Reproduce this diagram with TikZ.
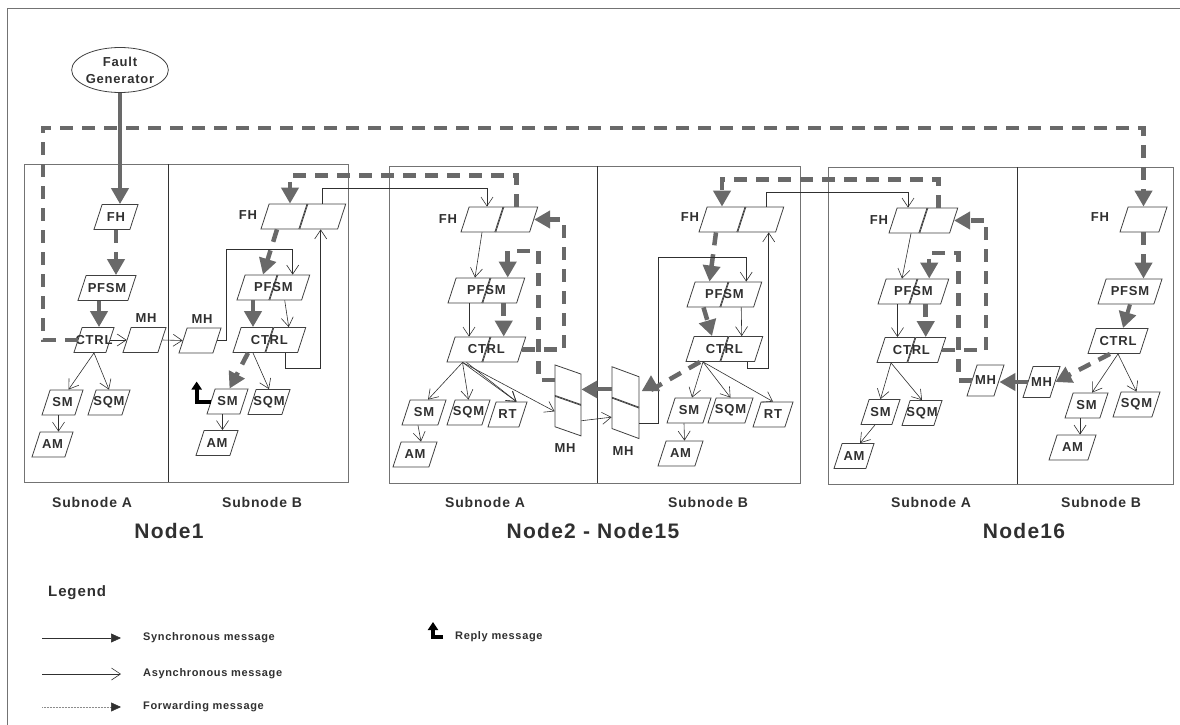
\documentclass[tikz,border=0pt]{standalone}
\usepackage{fontspec}
\setmainfont{Liberation Sans}[LetterSpace=6]
\usetikzlibrary{arrows.meta, shapes.geometric, positioning}
\definecolor{fwdgray}{HTML}{696969}
\definecolor{inkgray}{HTML}{303030}

\begin{document}
\begin{tikzpicture}[
    x=1pt, y=-1pt,
    parabase/.style={
        trapezium, trapezium left angle=72, trapezium right angle=108,
        draw=black!75, line width=0.8pt, fill=white
    },
    para/.style={parabase, inner ysep=12.5pt, inner xsep={(#1-16.24)*0.5pt}},
    mhpara/.style={parabase, inner ysep=15.5pt, inner xsep={(#1-20.14)*0.5pt}},
    mhcell/.style={
        rectangle, draw=black!75, line width=0.8pt, fill=white, inner sep=0pt,
        minimum width=#1, minimum height=30.5pt, transform shape
    },
    lbl/.style={font=\bfseries\fontsize{13}{17}\selectfont, text=inkgray, inner sep=0pt},
    subtitle/.style={font=\bfseries\fontsize{14}{16}\selectfont, text=inkgray, inner sep=0pt},
    title/.style={font=\bfseries\fontsize{21}{24}\selectfont, text=inkgray, inner sep=0pt},
    legtext/.style={font=\bfseries\fontsize{11}{13}\selectfont, text=inkgray, inner sep=0pt, anchor=west},
    nodebox/.style={draw=black!55, line width=1pt},
    divider/.style={draw=black!80, line width=0.8pt},
    async/.style={-{Straight Barb[length=9pt,width=12pt]}, line width=0.6pt, draw=inkgray},
    thk/.style={-{Triangle[length=16pt,width=17pt]}, line width=4pt, draw=fwdgray},
    fwd/.style={thk, line width=4.5pt, dash pattern=on 13pt off 9pt},
    reply/.style={-{Triangle[length=8pt,width=10pt]}, line width=4pt, draw=black},
]

\useasboundingbox (0,0) rectangle (1180,725);
\draw[black!55, line width=1pt] (7,725) -- (7,9) -- (1180,9);

\draw[nodebox] (24,164) rectangle (348,482);
\draw[divider] (168,164) -- (168,482);
\draw[nodebox] (389,166) rectangle (800,483);
\draw[divider] (597,166) -- (597,483);
\draw[nodebox] (828,167) rectangle (1173,484);
\draw[divider] (1017,167) -- (1017,484);

\node[lbl, draw=black!75, line width=0.8pt, ellipse, minimum width=86pt, minimum height=45pt, align=center] (fg) at (120,70) {Fault\\Generator};

% Node1, subnode A
\node[para=44, label={[lbl]center:FH}] (n1aFH) at (116,217) {};
\node[para=58, label={[lbl]center:PFSM}] (n1aPFSM) at (107,288) {};
\node[para=40, label={[lbl]center:CTRL}] (n1aCTRL) at (94,340) {};
\node[para=43] (n1aMH) at (144.5,340) {};
\node[lbl] (n1aMHtx) at (146,318) {MH};
\node[para=41, label={[lbl]center:SM}] (n1aSM) at (62.5,402.5) {};
\node[para=42, label={[lbl]center:SQM}] (n1aSQM) at (109,402.5) {};
\node[para=41, label={[lbl]center:AM}] (n1aAM) at (52.5,444.5) {};

% Node1, subnode B
\node[para=46] (n1bFHl) at (284,216.5) {};
\node[para=46, anchor=bottom left corner] (n1bFHr) at (n1bFHl.bottom right corner) {};
\node[lbl] (n1bFHtx) at (248,215) {FH};
\node[para=40] (n1bPFSMl) at (257,287.5) {};
\node[para=40, anchor=bottom left corner] (n1bPFSMr) at (n1bPFSMl.bottom right corner) {};
\node[lbl] (n1bPFSMtx) at (n1bPFSMl.east) {PFSM};
\node[para=40] (n1bCTRLl) at (253,340) {};
\node[para=40, anchor=bottom left corner] (n1bCTRLr) at (n1bCTRLl.bottom right corner) {};
\node[lbl] (n1bCTRLtx) at (n1bCTRLl.east) {CTRL};
\node[para=42] (n1bMH) at (200,340.5) {};
\node[lbl] (n1bMHtx) at (202,319) {MH};
\node[para=41, label={[lbl]center:SM}] (n1bSM) at (227.5,401.5) {};
\node[para=42, label={[lbl]center:SQM}] (n1bSQM) at (269,402) {};
\node[para=42, label={[lbl]center:AM}] (n1bAM) at (217,443) {};

% Node2 - Node15, subnode A
\node[para=42] (n2aFHl) at (482,219.5) {};
\node[para=42, anchor=bottom left corner] (n2aFHr) at (n2aFHl.bottom right corner) {};
\node[lbl] (n2aFHtx) at (448,219) {FH};
\node[para=42] (n2aPFSMl) at (469,290.5) {};
\node[para=42, anchor=bottom left corner] (n2aPFSMr) at (n2aPFSMl.bottom right corner) {};
\node[lbl] (n2aPFSMtx) at (n2aPFSMl.east) {PFSM};
\node[para=43] (n2aCTRLl) at (468.5,349.5) {};
\node[para=43, anchor=bottom left corner] (n2aCTRLr) at (n2aCTRLl.bottom right corner) {};
\node[lbl] (n2aCTRLtx) at (n2aCTRLl.east) {CTRL};
\node[para=44, label={[lbl]center:SM}] (n2aSM) at (424,412.5) {};
\node[para=43, label={[lbl]center:SQM}] (n2aSQM) at (468.5,412.5) {};
\node[para=39, label={[lbl]center:RT}] (n2aRT) at (507.5,414.5) {};
\node[para=44, label={[lbl]center:AM}] (n2aAM) at (415,454.5) {};
\node[mhcell=26pt, yslant=-0.35] (n2aMHt) at (568,384.75) {};
\node[mhcell=26pt, yslant=-0.35, anchor=north] (n2aMHb) at (n2aMHt.south) {};
\node[lbl] (n2aMHtx) at (565,448) {MH};

% Node2 - Node15, subnode B
\node[para=46] (n2bFHl) at (722,219.5) {};
\node[para=46, anchor=bottom left corner] (n2bFHr) at (n2bFHl.bottom right corner) {};
\node[lbl] (n2bFHtx) at (690,217) {FH};
\node[para=41] (n2bPFSMl) at (707.5,294.5) {};
\node[para=41, anchor=bottom left corner] (n2bPFSMr) at (n2bPFSMl.bottom right corner) {};
\node[lbl] (n2bPFSMtx) at (n2bPFSMl.east) {PFSM};
\node[para=42] (n2bCTRLl) at (707,349) {};
\node[para=42, anchor=bottom left corner] (n2bCTRLr) at (n2bCTRLl.bottom right corner) {};
\node[lbl] (n2bCTRLtx) at (n2bCTRLl.east) {CTRL};
\node[para=44, label={[lbl]center:SM}] (n2bSM) at (689,410.5) {};
\node[para=45, label={[lbl]center:SQM}] (n2bSQM) at (730.5,410.5) {};
\node[para=40, label={[lbl]center:RT}] (n2bRT) at (773,414.5) {};
\node[para=45, label={[lbl]center:AM}] (n2bAM) at (680.5,453.5) {};
\node[mhcell=27pt, yslant=-0.37] (n2bMHt) at (625.5,387) {};
\node[mhcell=27pt, yslant=-0.37, anchor=north] (n2bMHb) at (n2bMHt.south) {};
\node[lbl] (n2bMHtx) at (623,451) {MH};
\coordinate (n2bMHtip) at (651,390);

% Node16, subnode A
\node[para=38] (n16aFHl) at (908,220.5) {};
\node[para=38, anchor=bottom left corner] (n16aFHr) at (n16aFHl.bottom right corner) {};
\node[lbl] (n16aFHtx) at (879,220) {FH};
\node[para=39] (n16aPFSMl) at (897.5,291.5) {};
\node[para=39, anchor=bottom left corner] (n16aPFSMr) at (n16aPFSMl.bottom right corner) {};
\node[lbl] (n16aPFSMtx) at (n16aPFSMl.east) {PFSM};
\node[para=38] (n16aCTRLl) at (896,350) {};
\node[para=38, anchor=bottom left corner] (n16aCTRLr) at (n16aCTRLl.bottom right corner) {};
\node[lbl] (n16aCTRLtx) at (n16aCTRLl.east) {CTRL};
\node[para=39, label={[lbl]center:SM}] (n16aSM) at (880.5,412) {};
\node[para=40, label={[lbl]center:SQM}] (n16aSQM) at (922,413) {};
\node[para=40, label={[lbl]center:AM}] (n16aAM) at (854,456) {};
\node[mhpara=37, label={[lbl]center:MH}] (n16aMH) at (985.5,380.5) {};

% Node16, subnode B
\node[mhpara=37, label={[lbl]center:MH}] (n16bMH) at (1041.5,382) {};
\node[para=47] (n16bFH) at (1143.5,219.5) {};
\node[lbl] (n16bFHtx) at (1100,217) {FH};
\node[para=64, label={[lbl]center:PFSM}] (n16bPFSM) at (1130,291.5) {};
\node[para=60, label={[lbl]center:CTRL}] (n16bCTRL) at (1118,341) {};
\node[para=43, label={[lbl]center:SM}] (n16bSM) at (1086.5,405.5) {};
\node[para=47, label={[lbl]center:SQM}] (n16bSQM) at (1136.5,404.5) {};
\node[para=47, label={[lbl]center:AM}] (n16bAM) at (1072.5,447.5) {};

\coordinate (loopcorner) at (43,128);

% Node1 messages
\draw[thk] (fg.south) -- (fg.south |- n1aFH.north);
\draw[fwd] (n1aFH.south) -- (n1aFH.south |- n1aPFSM.north);
\draw[thk] ([xshift=-8pt]n1aPFSM.south) -- ([xshift=-8pt]n1aPFSM.south |- n1aCTRL.north);
\draw[fwd] (n1aCTRL.west) -| (loopcorner) -| (n16bFH.north);
\draw[async] (n1aCTRL.east) -- (n1aMH.west);
\draw[async] (n1aMH.east) -- (n1bMH.west);
\draw[async] (n1aCTRL.south) -- ([xshift=6pt]n1aSM.north);
\draw[async] (n1aCTRL.south) -- (n1aSQM.north);
\draw[async] ([xshift=-4pt]n1aSM.south) -- ([xshift=-4pt]n1aSM.south |- n1aAM.north);

\draw[fwd] (n2aFHr.north) -- ++(0,-31) -| ([xshift=6pt]n1bFHl.north);
\draw[async] (n1bFHr.north) -- ++(0,-15) -| ([xshift=5pt]n2aFHl.north);
\draw[fwd] ([xshift=-7pt]n1bFHl.south) -- ([xshift=6pt]n1bPFSMl.north);
\draw[async] (n1bMH.east) -- ++(9,0) -- ++(0,-91) -| ([xshift=3pt]n1bPFSMr.north);
\draw[fwd] ([xshift=-4pt]n1bPFSMl.south) -- ([xshift=-4pt]n1bPFSMl.south |- n1bCTRLl.north);
\draw[async] ([xshift=-5pt]n1bPFSMr.south) -- ([xshift=3pt]n1bCTRLr.north);
\draw[async] (n1bCTRLr.south) -- ++(0,15) -| ([xshift=-2pt]n1bFHr.south);
\draw[fwd] ([xshift=-5pt]n1bCTRLl.south) -- ([xshift=2pt]n1bSM.north);
\draw[async] (n1bCTRLl.south) -- (n1bSQM.north);
\draw[reply] (n1bSM.west) -- ++(-14,0) -- ++(0,-20);
\draw[async] ([xshift=-5pt]n1bSM.south) -- ([xshift=-5pt]n1bSM.south |- n1bAM.north);

% Node2 - Node15 messages
\draw[fwd] (n2aCTRLr.east) -- ++(42,0) |- (n2aFHr.east);
\draw[fwd] (n2aMHt.west) -- ++(-16,0) -- ++(0,-129) -| ([xshift=4pt]n2aPFSMr.north);
\draw[async] (n2aFHl.south) -- ([xshift=6pt]n2aPFSMl.north);
\draw[fwd] (n2aPFSMr.south) -- (n2aPFSMr.south |- n2aCTRLr.north);
\draw[async] (n2aPFSMl.south) -- (n2aPFSMl.south |- n2aCTRLl.north);
\draw[async] ([xshift=-6pt]n2aCTRLl.south) -- ([xshift=4pt]n2aSM.north);
\draw[async] ([xshift=-6pt]n2aCTRLl.south) -- (n2aSQM.north);
\draw[async] ([xshift=-6pt]n2aCTRLl.south) -- ([xshift=9pt]n2aRT.north);
\draw[async] ([xshift=-2pt]n2aCTRLl.south) -- ([xshift=9pt]n2aRT.north);
\draw[async] ([xshift=-6pt]n2aCTRLl.south) -- (n2aMHb.west);
\draw[async] ([xshift=-6pt]n2aSM.south) -- ([xshift=6pt]n2aAM.north);
\draw[async] (n2aMHb.east) -- ([yshift=-4pt]n2bMHb.west);
\draw[thk] (n2aMHt.east -| n2bMHt.west) -- (n2aMHt.east);

\draw[fwd] (n16aFHr.north) -- ++(0,-28) -| (n2bFHl.north);
\draw[async] ([xshift=6pt]n2bFHr.north) -- ++(0,-14) -| (n16aFHl.north);
\draw[fwd] ([xshift=-6pt]n2bFHl.south) -- ([xshift=2pt]n2bPFSMl.north);
\draw[async] (n2bMHb.east) -- ++(19,0) -- ++(0,-166) -| ([xshift=5pt]n2bPFSMr.north);
\draw[fwd] ([xshift=-4pt]n2bPFSMl.south) -- ([xshift=5pt]n2bCTRLl.north);
\draw[async] (n2bPFSMr.south) -- (n2bCTRLr.north);
\draw[async] ([xshift=6pt]n2bCTRLr.south) -- ++(0,6) -| ([xshift=8pt]n2bFHr.south);
\draw[fwd] ([xshift=-7pt]n2bCTRLl.south) -- (n2bMHtip) -- ++(0,-15);
\draw[async] ([xshift=-4pt]n2bCTRLl.south) -- ([xshift=3pt]n2bSM.north);
\draw[async] ([xshift=-4pt]n2bCTRLl.south) -- (n2bSQM.north);
\draw[async] ([xshift=-4pt]n2bCTRLl.south) -- (n2bRT.north);
\draw[async] ([xshift=-5pt]n2bSM.south) -- ([xshift=4pt]n2bAM.north);

% Node16 messages
\draw[fwd] (n16aCTRLr.east) -- ++(44,0) |- (n16aFHr.east);
\draw[fwd] (n16aMH.west) -- ++(-13,0) -- ++(0,-127.5) -| (n16aPFSMr.north);
\draw[async] ([xshift=3pt]n16aFHl.south) -- ([xshift=4.5pt]n16aPFSMl.north);
\draw[fwd] ([xshift=-3.5pt]n16aPFSMr.south) -- ([xshift=-3.5pt]n16aPFSMr.south |- n16aCTRLr.north);
\draw[async] (n16aPFSMl.south) -- (n16aPFSMl.south |- n16aCTRLl.north);
\draw[async] ([xshift=-5pt]n16aCTRLl.south) -- (n16aSM.north);
\draw[async] ([xshift=-5pt]n16aCTRLl.south) -- (n16aSQM.north);
\draw[async] ([xshift=-5.5pt]n16aSM.south) -- ([xshift=6pt]n16aAM.north);
\draw[thk] (n16bMH.west) -- (n16bMH.west -| n16aMH.east);

\draw[fwd] (n16bFH.south) -- (n16bFH.south |- n16bPFSM.north);
\draw[thk] (n16bPFSM.south) -- ([xshift=5pt]n16bCTRL.north);
\draw[fwd] ([xshift=-8pt]n16bCTRL.south) -- (n16bMH.east);
\draw[async] (n16bCTRL.south) -- ([xshift=5.5pt]n16bSM.north);
\draw[async] (n16bCTRL.south) -- (n16bSQM.north);
\draw[async] ([xshift=-6.5pt]n16bSM.south) -- ([xshift=-6.5pt]n16bSM.south |- n16bAM.north);

% captions
\node[subtitle] (n1asub) at (92,502) {Subnode A};
\node[subtitle] (n1bsub) at (262,502) {Subnode B};
\node[subtitle] (n2asub) at (485,502) {Subnode A};
\node[subtitle] (n2bsub) at (708,502) {Subnode B};
\node[subtitle] (n16asub) at (931,502) {Subnode A};
\node[subtitle] (n16bsub) at (1101,502) {Subnode B};
\node[title] (n1title) at (169,530.5) {Node1};
\node[title] (n2title) at (593,531) {Node2 - Node15};
\node[title] (n16title) at (1024,531) {Node16};

% legend
\node[legtext, font=\bfseries\fontsize{15}{17}\selectfont] (legtitle) at (48,593) {Legend};
\node[legtext] (synctx) at (143,638) {Synchronous message};
\node[legtext] (asynctx) at (143,674) {Asynchronous message};
\node[legtext] (fwdtx) at (143,707) {Forwarding message};
\node[legtext] (replytx) at (455,637) {Reply message};
\coordinate (syncfrom) at (42,638);
\coordinate (asyncfrom) at (42,674);
\coordinate (fwdfrom) at (42,707);
\draw[-{Triangle[length=10pt,width=9pt]}, line width=0.6pt, draw=inkgray] (syncfrom) -- ([xshift=-22pt]synctx.west);
\draw[async] (asyncfrom) -- ([xshift=-22pt]asynctx.west);
\draw[-{Triangle[length=10pt,width=9pt,color=inkgray]}, line width=0.5pt, draw=black!45, densely dotted] (fwdfrom) -- ([xshift=-22pt]fwdtx.west);
\draw[reply] ([xshift=-12pt]replytx.west) -- ++(-10,0) -- ++(0,-15);

\end{tikzpicture}
\end{document}
